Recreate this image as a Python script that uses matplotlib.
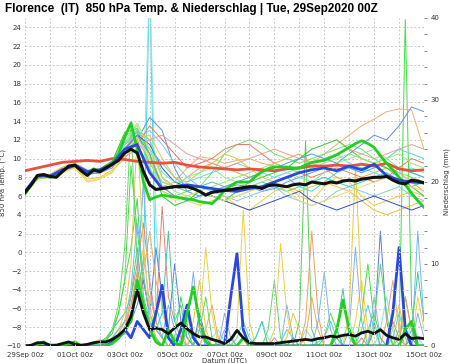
import matplotlib
matplotlib.use('Agg')
import matplotlib.pyplot as plt
import matplotlib.dates as mdates
from matplotlib.ticker import MultipleLocator
import pandas as pd

# time axes (6-hourly and 12-hourly steps)
t6 = pd.date_range('2020-09-29 00:00', periods=65, freq='6h')
t12 = pd.date_range('2020-09-29 00:00', periods=33, freq='12h')
tick_dates = pd.date_range('2020-09-29', '2020-10-15', freq='2D')
tick_labels = ['29Sep 00z', '01Oct 00z', '03Oct 00z', '05Oct 00z', '07Oct 00z',
               '09Oct 00z', '11Oct 00z', '13Oct 00z', '15Oct 00z']

# 850 hPa temperature, ensemble mean (6h)
temp_mean = [6.4, 7.2, 8.2, 8.3, 8.1, 8.0, 8.6, 9.2, 9.3, 8.7, 8.2, 8.8,
             8.6, 9.0, 9.4, 9.8, 10.6, 11.0, 10.6, 8.6, 7.2, 6.7, 6.8, 6.9,
             7.0, 7.0, 7.0, 6.8, 6.5, 6.1, 6.4, 6.5, 6.6, 6.7, 6.8, 6.9,
             7.0, 7.0, 6.8, 7.1, 7.2, 7.1, 7.0, 7.2, 7.3, 7.2, 7.5, 7.4,
             7.3, 7.5, 7.4, 7.6, 7.7, 7.6, 7.8, 7.9, 8.0, 8.0, 8.1, 7.7,
             7.4, 7.3, 7.7, 7.6, 7.4]
# control run (6h)
temp_ctrl = [6.2, 7.2, 8.0, 8.2, 8.0, 8.1, 8.7, 9.1, 9.3, 8.8, 8.5, 8.9,
             8.7, 9.2, 9.6, 10.5, 12.3, 13.8, 11.0, 7.5, 5.6, 5.9, 6.1, 6.0,
             5.9, 5.8, 5.7, 5.6, 5.4, 5.3, 5.2, 5.8, 6.6, 7.1, 7.5, 7.5,
             7.5, 8.1, 8.6, 8.9, 9.1, 9.1, 9.1, 9.0, 9.0, 9.3, 9.6, 9.7,
             9.8, 10.1, 10.4, 10.8, 11.2, 11.6, 11.9, 11.6, 11.2, 10.3, 9.5, 8.8,
             8.0, 7.2, 6.3, 5.5, 4.8]
# operational run (12h)
temp_oper = [6.5, 8.2, 8.1, 8.8, 9.3, 8.6, 8.8, 9.4, 11.0, 11.5, 8.5, 6.8,
             7.0, 7.2, 7.0, 6.8, 6.6, 6.5, 6.8, 7.0, 7.5, 8.0, 8.5, 8.8,
             9.0, 8.7, 9.2, 8.8, 9.4, 8.2, 7.7, 7.5, 7.4]
# climatology (12h)
temp_clim = [8.7, 9.0, 9.3, 9.6, 9.7, 9.8, 9.7, 10.0, 9.9, 9.7, 9.6, 9.5,
             9.6, 9.3, 9.1, 9.0, 8.9, 8.8, 8.9, 8.8, 8.7, 8.9, 9.0, 9.2,
             9.2, 9.3, 9.2, 9.4, 9.2, 9.5, 8.9, 8.7, 8.8]

# ensemble members (12h)
temp_m1 = [6.5, 8.0, 8.1, 9.0, 9.0, 8.4, 8.4, 9.2, 10.5, 11.8, 10.0, 7.0, 7.5, 9.0, 10.2, 10.0, 9.5,
           9.8, 10.0, 9.5, 9.2, 9.0, 8.8, 9.5, 10.5, 11.5, 12.5, 13.5, 14.2, 15.0, 15.3, 15.2, 11.0]
temp_m2 = [6.3, 7.9, 8.0, 8.8, 9.4, 8.6, 8.8, 9.6, 12.5, 13.0, 9.0, 6.5, 6.0, 6.5, 7.0, 8.5, 10.5,
           11.5, 12.0, 11.5, 10.5, 10.0, 9.5, 10.0, 10.5, 11.0, 11.5, 11.0, 10.0, 9.0, 8.5, 8.0, 7.5]
temp_m3 = [6.6, 8.2, 8.1, 8.7, 9.3, 8.5, 8.7, 9.3, 11.5, 12.5, 11.0, 9.5, 8.0, 7.0, 6.5, 6.0, 5.5,
           6.0, 6.5, 7.0, 7.5, 8.0, 7.0, 6.5, 7.5, 8.5, 9.0, 8.5, 9.5, 10.0, 11.0, 10.5, 10.0]
temp_m4 = [6.4, 8.1, 8.0, 8.6, 9.2, 8.4, 8.5, 9.0, 10.8, 12.0, 14.4, 13.0, 9.0, 6.5, 6.0, 6.5, 6.8,
           7.2, 7.0, 6.5, 6.8, 7.5, 8.0, 8.5, 9.0, 9.5, 10.5, 11.5, 12.5, 12.0, 13.5, 15.5, 15.0]
temp_m5 = [6.2, 7.8, 8.0, 8.5, 9.0, 7.5, 7.8, 8.5, 10.5, 12.5, 11.0, 7.0, 6.0, 5.5, 5.0, 5.5, 6.0,
           5.0, 4.5, 5.5, 6.5, 7.0, 6.0, 5.5, 7.0, 8.0, 7.5, 6.0, 5.0, 5.5, 6.0, 6.5, 6.0]
temp_m6 = [6.5, 8.2, 8.3, 9.1, 9.5, 8.8, 8.6, 9.4, 11.0, 13.0, 12.0, 8.0, 7.0, 8.0, 9.0, 9.5, 9.0,
           8.5, 8.0, 8.5, 9.5, 10.0, 10.5, 9.5, 9.0, 8.0, 7.5, 8.0, 8.5, 9.0, 8.5, 7.5, 6.5]
temp_m7 = [6.3, 8.0, 8.2, 8.8, 9.3, 8.6, 8.9, 9.7, 12.8, 13.2, 10.5, 6.0, 5.0, 5.5, 6.5, 6.0, 5.5,
           6.5, 7.5, 8.0, 8.5, 9.0, 10.0, 11.0, 11.5, 12.0, 11.0, 10.0, 9.5, 9.0, 8.0, 7.0, 6.0]
temp_m8 = [6.6, 8.1, 8.2, 8.9, 9.2, 8.6, 8.7, 9.5, 11.2, 12.2, 13.0, 11.5, 9.5, 8.0, 7.0, 6.5, 6.0,
           5.5, 6.0, 6.5, 7.0, 6.0, 5.5, 5.0, 5.5, 6.5, 7.0, 6.5, 6.0, 6.5, 7.0, 6.0, 5.5]
temp_m9 = [6.4, 8.0, 8.1, 8.9, 9.3, 8.5, 8.7, 9.2, 10.5, 11.5, 13.5, 12.0, 10.5, 9.0, 9.5, 10.0, 11.0,
           11.5, 11.5, 10.5, 9.5, 9.0, 8.5, 8.0, 8.5, 9.0, 8.5, 8.0, 7.5, 8.0, 9.0, 10.0, 9.5]
temp_m10 = [6.5, 8.1, 8.0, 8.7, 9.4, 8.7, 8.8, 9.5, 11.8, 12.8, 9.5, 7.5, 7.0, 6.5, 7.0, 7.5, 7.0,
            6.5, 7.0, 7.5, 7.0, 6.5, 7.0, 7.5, 8.0, 7.5, 7.0, 7.5, 8.0, 8.5, 7.5, 7.0, 7.5]
temp_m11 = [6.3, 7.9, 8.1, 8.6, 9.1, 7.8, 8.0, 8.8, 10.0, 12.0, 12.5, 10.0, 8.0, 7.5, 8.5, 9.5, 10.5,
            10.0, 9.0, 8.0, 7.5, 7.0, 6.5, 7.0, 7.5, 7.0, 6.5, 5.5, 4.5, 4.0, 4.5, 5.0, 5.5]
temp_m12 = [6.4, 8.0, 8.0, 8.8, 9.3, 8.6, 8.8, 9.6, 12.0, 13.5, 10.0, 7.5, 7.0, 8.0, 8.5, 9.0, 8.0,
            7.5, 7.0, 7.5, 8.0, 8.5, 8.0, 7.5, 8.5, 9.5, 10.0, 10.5, 11.0, 10.0, 9.0, 8.5, 8.0]
temp_m13 = [6.5, 8.1, 8.2, 8.9, 9.3, 8.5, 8.7, 9.4, 11.0, 12.5, 11.5, 9.0, 7.5, 7.0, 6.5, 6.0, 5.5,
            5.0, 4.5, 5.0, 5.5, 6.0, 6.5, 5.5, 5.0, 4.5, 5.0, 5.5, 6.0, 5.5, 5.0, 4.5, 5.0]
temp_m14 = [6.5, 8.0, 8.2, 8.8, 9.2, 8.6, 8.7, 9.3, 11.5, 13.0, 12.0, 8.5, 7.5, 7.5, 8.0, 8.5, 9.0,
            9.5, 9.0, 8.5, 8.0, 8.5, 9.0, 9.5, 10.0, 10.5, 9.5, 9.0, 8.5, 8.0, 8.5, 9.0, 8.5]
temp_m15 = [6.4, 8.0, 8.1, 8.7, 9.2, 8.5, 8.7, 9.5, 11.5, 13.8, 11.0, 8.0, 6.5, 6.0, 6.5, 7.0, 7.5,
            8.0, 8.5, 9.0, 9.5, 9.0, 8.5, 9.0, 9.5, 10.0, 10.5, 10.0, 9.5, 10.0, 10.5, 9.5, 9.0]
temp_m16 = [6.5, 8.1, 8.2, 8.8, 9.3, 8.6, 8.6, 9.2, 10.2, 11.0, 12.0, 12.5, 11.5, 10.5, 10.0, 9.5, 9.0,
            9.5, 10.0, 10.5, 11.0, 10.5, 10.0, 9.5, 10.0, 10.5, 11.0, 10.5, 10.0, 10.5, 11.0, 11.5, 11.0]
temp_m17 = [6.3, 7.9, 8.0, 8.6, 9.1, 8.3, 8.5, 9.2, 11.0, 12.5, 10.5, 7.0, 6.0, 5.5, 6.0, 6.5, 7.0,
            7.5, 8.0, 8.5, 9.0, 9.5, 10.0, 10.5, 10.0, 9.5, 9.0, 8.5, 9.0, 9.5, 9.0, 8.5, 8.0]
temp_m18 = [6.4, 7.9, 8.0, 8.6, 9.0, 7.6, 7.9, 8.6, 10.8, 12.2, 10.0, 6.5, 5.5, 6.0, 6.5, 6.0, 5.5,
            6.0, 6.5, 7.0, 7.5, 6.5, 5.5, 5.0, 5.5, 6.0, 6.5, 7.0, 7.5, 8.0, 7.5, 7.0, 6.5]

# precipitation (mm, 6h)
prec_mean = [0, 0.1, 0.4, 0.4, 0.1, 0.1, 0.3, 0.5, 0.2, 0.1, 0.2, 0.4,
             0.5, 0.5, 0.8, 1.3, 2.0, 3.6, 6.8, 4.0, 2.0, 2.2, 2.0, 1.5,
             2.2, 2.8, 2.1, 1.5, 1.1, 1.1, 0.8, 0.6, 0.3, 0.8, 1.9, 1.0,
             0.4, 0.3, 0.3, 0.3, 0.3, 0.4, 0.5, 0.6, 0.7, 0.8, 0.7, 0.9,
             1.0, 1.2, 1.1, 1.3, 1.4, 1.2, 1.6, 1.8, 1.5, 2.0, 1.3, 1.0,
             0.8, 1.5, 0.9, 1.0, 0.9]
prec_ctrl = [0, 0, 0.2, 0.5, 0, 0, 0, 0.3, 0.5, 0, 0, 0, 0, 0, 0.3, 1,
             2, 3, 8, 5, 2, 0.5, 0, 2, 0.5, 0, 4, 7.2, 3, 0.5, 0, 0,
             0, 0, 0, 1, 0, 0, 0, 0, 0, 0, 0, 0, 0, 0, 0, 0,
             0, 0, 2, 5.6, 2, 0, 0, 0, 0, 0, 0, 0, 0, 2, 3, 0, 0]
prec_oper = [0, 0, 0, 0, 0, 0, 0, 0, 0, 0, 0, 0, 0, 0, 0.5, 1,
             2, 1, 3, 2, 1, 4, 7.4, 1, 0, 2, 5, 1, 0, 0, 0, 0,
             0, 6, 11.3, 2, 0, 0, 0, 0, 0, 0, 0, 0, 0, 0, 0, 0,
             0, 0, 0, 0, 0, 0, 0, 0, 0, 0, 0, 4, 12, 2, 0, 0, 0]
prec_p1 = [0, 0, 0, 0, 0, 0, 0, 0, 0, 0, 0, 0, 0, 0, 0.3, 0.8,
           2, 4, 7, 10, 45, 5, 2, 1, 0.5, 0, 0, 1.5, 2, 0.5, 0, 0,
           0, 0, 1, 3, 1, 0, 0, 0, 0, 0.5, 2, 1, 0, 0, 0, 0.5,
           1, 3, 1, 0, 0, 0, 2, 5, 2, 0, 0, 1, 4, 1, 0, 0, 0]
prec_p2 = [0, 0, 0.5, 0.2, 0, 0, 0, 0.4, 0, 0, 0, 0, 0, 0.3, 1, 1.5,
           3, 5, 9, 20, 45, 15, 4, 2, 1, 0.5, 0, 0, 0, 0, 1, 2,
           0.5, 0, 0, 0, 0, 1, 3, 1, 0, 0, 0, 0, 0, 2, 1, 0,
           0, 0, 0, 1, 3, 1, 0, 0, 0, 2, 6, 2, 0, 0, 3, 1, 0]
prec_p3 = [0, 0, 0, 0, 0, 0, 0, 0, 0, 0, 0, 0.2, 0.5, 0.8, 1.5, 4,
           8, 12, 18, 6, 3, 1, 0, 0, 0, 0, 2, 1, 0, 0, 0, 0,
           0, 0, 0, 1, 0, 0, 0, 0, 0, 0, 0, 0, 3, 25, 2, 0,
           0, 0, 1, 0, 0, 0, 0, 2, 4, 1, 0, 0, 0, 6, 2, 0, 0]
prec_p4 = [0, 0, 0, 0, 0, 0, 0, 0, 0, 0, 0, 0, 0, 0, 0.5, 1,
           2, 6, 10, 15, 8, 3, 17, 6, 3, 1, 0, 0, 0, 0, 0, 0.5,
           0, 0, 0, 0, 0, 0, 0, 0, 1, 0, 0, 0, 0, 0, 0, 0,
           0, 0, 0, 0, 0, 0, 1, 0, 0, 0, 0, 3, 1, 0, 0, 0, 0]
prec_p5 = [0, 0, 0.3, 0, 0, 0, 0, 0, 0, 0, 0, 0.5, 0.8, 0.5, 1, 2,
           3, 5, 8, 12, 5, 2, 1, 0, 0, 0, 0, 0, 3, 12, 4, 0,
           0, 0, 2, 16.6, 3, 0, 0, 0, 2, 12.5, 4, 0, 0, 0, 0, 0,
           0, 0, 0, 0, 0, 3, 8, 2, 0, 0, 0, 0, 0, 0, 0, 6, 2]
prec_p6 = [0, 0, 0, 0, 0, 0, 0, 0, 0, 0, 0, 0, 0, 0.5, 2, 4,
           8, 22, 14, 8, 4, 2, 1, 0, 1, 6, 2, 0, 0, 0, 0, 0,
           0, 1, 0, 0, 0, 0, 0, 0, 0, 0, 0, 0, 0, 0, 0, 0,
           0, 0, 0, 0, 0, 0, 4, 10, 3, 0, 0, 0, 2, 39.8, 5, 0, 0]
prec_p7 = [0, 0, 0, 0, 0, 0, 0, 0, 0, 0, 0, 0, 0, 0, 0.5, 1,
           1.5, 3, 5, 8, 4, 12, 6, 2, 10, 3, 1, 0, 4, 1, 0, 0,
           0, 0, 0, 0, 0, 0, 0, 0, 0, 0, 0, 1, 0, 0, 0, 0,
           0, 0, 2, 0, 0, 0, 0, 0, 2, 14, 3, 0, 0, 0, 1, 0, 0]
prec_p8 = [0, 0, 0, 0, 0, 0, 0.3, 0.2, 0, 0, 0, 0, 0, 0, 0.5, 1.5,
           3, 4, 6, 9, 14, 8, 5, 1, 0, 0, 0, 0, 0, 2, 5, 1,
           0, 0, 0, 0, 0, 0, 0, 0, 0, 0, 0, 0, 0, 1, 6, 2,
           0, 0, 0, 0, 0, 0, 0, 0, 0, 0, 3, 8, 2, 0, 0, 0, 0]
prec_p9 = [0, 0, 0, 0, 0, 0, 0, 0, 0, 0, 0, 0.3, 0.5, 1, 2, 3,
           4, 6, 12, 5, 3, 2, 4, 14, 3, 5, 1, 0, 0, 0, 0, 0,
           0, 0, 0, 0, 0, 1, 3, 0, 0, 0, 0, 0, 0, 0, 0, 0,
           0, 0, 2, 7, 1, 0, 0, 0, 0, 0, 0, 0, 0, 0, 2, 9, 3]
prec_p10 = [0, 0, 0, 0, 0, 0, 0, 0, 0, 0, 0, 0, 0, 0, 0.3, 1,
            2, 4, 8, 20, 7, 3, 1, 0, 0, 0, 2, 9, 2, 0, 0, 0,
            4, 1, 0, 0, 0, 0, 0, 0, 0, 0, 5, 1, 0, 0, 0, 0,
            0, 0, 0, 0, 2, 12, 3, 0, 6, 1, 0, 0, 0, 0, 0, 4, 1]
prec_p11 = [0, 0, 0, 0, 0, 0, 0, 0, 0, 0, 0, 0, 0, 0.5, 1, 2,
            4, 10, 26, 12, 4, 1, 0, 0, 0, 0, 0, 3, 8, 2, 0, 0,
            0, 0, 0, 0, 0, 0, 0, 0, 0, 0, 1, 4, 2, 0, 0, 0,
            0, 0, 0, 0, 4, 22, 6, 0, 0, 0, 0, 2, 5, 1, 0, 0, 0]
prec_p12 = [0, 0, 0, 0, 0, 0, 0, 0, 0, 0, 0, 0, 0, 0.8, 2, 5,
            12, 27, 10, 4, 2, 1, 0, 0, 0, 0, 0, 0, 2, 6, 1, 0,
            0, 0, 0, 0, 0, 0, 0, 2, 8, 1, 0, 0, 0, 0, 0, 0,
            1, 4, 2, 0, 0, 0, 0, 0, 3, 10, 4, 0, 0, 0, 0, 0, 0]
prec_p13 = [0, 0, 0, 0, 0, 0, 0, 0, 0, 0, 0, 0, 0, 0, 0.5, 1,
            2, 5, 9, 7, 6, 3, 1, 0, 0, 2, 0, 0, 0, 0, 0, 0,
            0, 0, 0, 0, 0, 0, 0, 0, 0, 0, 0, 0, 0, 3, 14, 4,
            0, 0, 0, 0, 0, 0, 0, 0, 0, 0, 0, 0, 1, 6, 2, 0, 0]
prec_p14 = [0, 0, 0, 0, 0, 0, 0, 0, 0, 0, 0, 0, 0, 0.3, 1, 2,
            3, 7, 15, 9, 3, 2, 1, 5, 2, 0, 0, 0, 0, 0, 0, 0,
            2, 0, 0, 0, 0, 0, 0, 0, 0, 0, 0, 0, 0, 0, 0, 3,
            9, 2, 0, 0, 0, 0, 0, 0, 0, 0, 0, 0, 0, 0, 0, 14, 3]

temp_members = [temp_m1, temp_m2, temp_m3, temp_m4, temp_m5, temp_m6, temp_m7, temp_m8, temp_m9,
                temp_m10, temp_m11, temp_m12, temp_m13, temp_m14, temp_m15, temp_m16, temp_m17, temp_m18]
temp_colors = ['#f0b070', '#70e070', '#40d8e8', '#6090f0', '#f0d040', '#f0a850', '#30c830',
               '#80c8f0', '#e87860', '#40c8b0', '#e8c040', '#90e890', '#3050d0', '#60e0d8',
               '#a0e870', '#e8a090', '#50a0e0', '#f0e060']
prec_members = [prec_p1, prec_p2, prec_p3, prec_p4, prec_p5, prec_p6, prec_p7,
                prec_p8, prec_p9, prec_p10, prec_p11, prec_p12, prec_p13, prec_p14]
prec_colors = ['#40d8e8', '#80e8f0', '#50d050', '#e8806a', '#f0d040', '#40e040', '#5080e8',
               '#f0a850', '#40c8a0', '#80b0f0', '#e8c840', '#60d860', '#f0a060', '#70b8f0']

fig = plt.figure(figsize=(4.5, 3.63), dpi=100)
ax = fig.add_axes([25 / 450, 1 - 346 / 363, 399 / 450, 328 / 363])
ax2 = ax.twinx()
ax.set_zorder(ax2.get_zorder() + 1)
ax.patch.set_visible(False)

grid_kw = dict(color='#c8c8c8', linestyle=(0, (2, 2)), linewidth=0.7)

# precipitation (right axis)
for vals, c in zip(prec_members, prec_colors):
    ax2.plot(t6, vals, color=c, lw=0.7)
ax2.plot(t6, prec_oper, color='#2848e0', lw=2)
ax2.plot(t6, prec_ctrl, color='#20d020', lw=2)
ax2.plot(t6, prec_mean, color='#111111', lw=2)
ax2.set_ylim(0, 40)
ax2.yaxis.set_major_locator(MultipleLocator(10))
ax2.yaxis.set_minor_locator(MultipleLocator(2))
ax2.tick_params(axis='y', which='both', labelsize=5, length=2, width=0.5,
                colors='#555555', labelcolor='#333333', pad=2.5)
ax2.set_ylabel('Niederschlag (mm)', fontsize=5, color='#333333')
ax2.yaxis.set_label_coords(1.048, 0.5)

# temperature (left axis)
for vals, c in zip(temp_members, temp_colors):
    ax.plot(t12, vals, color=c, lw=0.7)
ax.plot(t12, temp_clim, color='#e85040', lw=2)
ax.plot(t6, temp_ctrl, color='#20d020', lw=2)
ax.plot(t12, temp_oper, color='#2848e0', lw=2)
ax.plot(t6, temp_mean, color='#111111', lw=2.2)

ax.set_ylim(-10, 25)
ax.set_yticks(range(-10, 25, 2))
ax.set_xlim(t6[0], t6[-1])
ax.set_xticks(tick_dates)
ax.set_xticklabels(tick_labels)
ax.xaxis.set_minor_locator(mdates.DayLocator())
ax.tick_params(axis='both', which='both', labelsize=5, length=0,
               labelcolor='#333333', pad=2.5)
ax.tick_params(axis='x', pad=4)
ax.grid(True, which='both', axis='x', **grid_kw)
ax.grid(True, which='major', axis='y', **grid_kw)
ax.set_ylabel('850 hPa Temp. (°C)', fontsize=5, color='#333333')
ax.yaxis.set_label_coords(-0.045, 0.5)

for a in (ax, ax2):
    for s in a.spines.values():
        s.set_visible(False)

fig.text(5 / 450, 1 - 9 / 363, 'Florence  (IT)  850 hPa Temp. & Niederschlag | Tue, 29Sep2020 00Z',
         fontsize=8.5, fontweight='bold', family='Liberation Sans', ha='left', va='center')
fig.text(224 / 450, 1 - 361 / 363, 'Datum (UTC)', fontsize=5, color='#333333',
         ha='center', va='center')

fig.savefig('out.png', dpi=100)
